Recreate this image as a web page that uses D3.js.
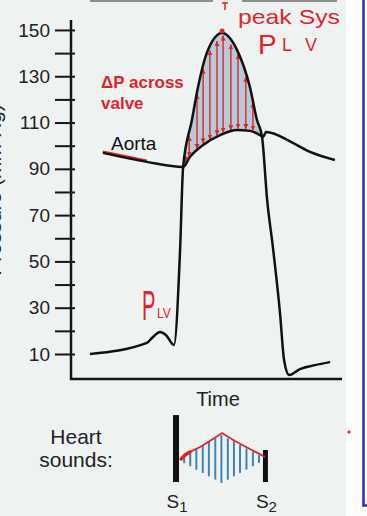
<!DOCTYPE html>
<html><head><meta charset="utf-8">
<script src="https://cdn.jsdelivr.net/npm/d3@7"></script>
<style>html,body{margin:0;padding:0;background:#fff;} svg{display:block;}</style>
</head><body><svg id="c" width="367" height="516"></svg>
<script>
// ---------- data ----------
const yTickValues = [10,20,30,40,50,60,70,80,90,100,110,120,130,140,150];
const yTickLabels = ["10","","30","","50","","70","","90","","110","","130","","150"];
// time in ms, pressure in mm Hg
const lvTime     = [56, 224, 239, 263, 280, 304, 322, 331, 357, 375, 401, 446, 490, 528, 549, 564, 579, 596, 617, 629, 644, 676, 720, 765];
const lvPressure = [10, 14.8, 16.9, 19.5, 18.2, 13.9, 54.9, 90.8, 111.1, 125.4, 140.1, 148.7, 141.4, 125.4, 111.1, 103.8, 76.6, 56.2, 27.7, 7.4, 0.9, 3.5, 5.2, 6.5];
const aortaTime     = [94, 224, 331, 351, 390, 440, 490, 528, 558, 567, 576, 655, 706, 779];
const aortaPressure = [96.9, 93.0, 90.8, 95.1, 100.3, 104.6, 106.8, 106.4, 104.6, 103.8, 105.9, 101.2, 97.3, 93.8];
const aortaRedUntil = 290;
const arrowTimes = [338, 349, 372, 390, 410, 431, 449, 472, 493, 516, 537];
// heart sounds
const murmurTime = [334, 352, 370, 389, 407, 426, 444, 463, 481, 499, 518, 537, 555];
const murmurAmp  = [0.18, 0.3, 0.45, 0.58, 0.72, 0.86, 1.0, 0.86, 0.72, 0.58, 0.44, 0.3, 0.16];
const traceTime = [325, 338, 351, 381, 410, 446, 484, 528, 573];
const traceAmp  = [0.0, 0.18, 0.29, 0.5, 0.75, 1.08, 0.75, 0.42, 0.08];
const soundTimes  = [310, 574];
const soundTop    = [1.83, 0.375];
const soundBottom = [-0.96, -0.96];
const soundSubs   = ["1", "2"];

// ---------- setup ----------
const W = 367, H = 516;
const font = "'Liberation Sans', Arial, Helvetica, sans-serif";
const red = "#e0232b";
const svg = d3.select("#c");

svg.append("rect").attr("width", W).attr("height", H).attr("fill", "#fbfcfc");
svg.append("rect").attr("x", 0).attr("y", 0).attr("width", 346).attr("height", H).attr("fill", "#eef3f2");

const x = d3.scaleLinear().domain([0, 800]).range([71, 342]);
const y = d3.scaleLinear().domain([-0.8, 154.3]).range([379, 20]);
const yM = d3.scaleLinear().domain([-1, 1]).range([483, 435]);

const lvData = lvTime.map((t, i) => ({t, v: lvPressure[i]}));
const aoData = aortaTime.map((t, i) => ({t, v: aortaPressure[i]}));
const lvAt = d3.scaleLinear().domain(lvTime).range(lvPressure);
const aoAt = d3.scaleLinear().domain(aortaTime).range(aortaPressure);

// top bars / frame decorations
svg.append("rect").attr("x", 90).attr("y", 0).attr("width", 123).attr("height", 2).attr("fill", "#8f8f8f");
svg.append("rect").attr("x", 242).attr("y", 0).attr("width", 95).attr("height", 2).attr("fill", "#8f8f8f");
svg.append("path").attr("d", "M363.5,0 V505.5 H367").attr("fill", "none").attr("stroke", "#2a2ac4").attr("stroke-width", 2.5);

// ---------- shading between curves ----------
const defs = svg.append("defs");
defs.append("clipPath").attr("id", "underLV").append("path")
  .attr("d", d3.area().x(d => x(d.t)).y0(y.range()[0]).y1(d => y(d.v)).curve(d3.curveMonotoneX)(lvData));
svg.append("path")
  .attr("d", d3.area().x(d => x(d.t)).y0(y.range()[1]).y1(d => y(d.v)).curve(d3.curveMonotoneX)(aoData))
  .attr("fill", "#b6cbd8").attr("clip-path", "url(#underLV)");

// arrow marker
defs.append("marker").attr("id", "ah").attr("viewBox", "0 0 10 10")
  .attr("refX", 10).attr("refY", 5).attr("markerUnits", "userSpaceOnUse")
  .attr("markerWidth", 5).attr("markerHeight", 6).attr("orient", "auto-start-reverse")
  .append("path").attr("d", "M0,0 L10,5 L0,10 z").attr("fill", red);

svg.append("g").selectAll("line").data(arrowTimes).join("line")
  .attr("x1", d => x(d)).attr("x2", d => x(d))
  .attr("y1", d => y(aoAt(d)) - 1.5).attr("y2", d => y(lvAt(d)) + 1.5)
  .attr("stroke", red).attr("stroke-width", 1.4)
  .attr("marker-start", "url(#ah)").attr("marker-end", "url(#ah)");

// ---------- axes ----------
const axis = d3.axisLeft(y).tickValues(yTickValues).tickSize(16).tickPadding(5)
  .tickFormat((d, i) => yTickLabels[i]);
const gy = svg.append("g").attr("transform", `translate(${x.range()[0]},0)`).call(axis);
gy.select(".domain").remove();
gy.selectAll(".tick line").attr("x1", 4).attr("stroke", "#151515").attr("stroke-width", 2);
gy.selectAll(".tick text").attr("font-family", font).attr("font-size", 19).attr("fill", "#222");

svg.append("path")
  .attr("d", `M${x.range()[0]},${y.range()[1]} V${y.range()[0]} H${x.range()[1]}`)
  .attr("fill", "none").attr("stroke", "#151515").attr("stroke-width", 2.5);

svg.append("text").attr("transform", `translate(1,190) rotate(-90)`).attr("text-anchor", "middle")
  .attr("font-family", font).attr("font-size", 21).attr("fill", "#222").text("Pressure (mm Hg)");

// ---------- curves ----------
const line = d3.line().x(d => x(d.t)).y(d => y(d.v)).curve(d3.curveMonotoneX);
svg.append("path").attr("d", line(aoData.filter(d => d.t <= aortaRedUntil)))
  .attr("transform", "translate(0,-1.3)")
  .attr("fill", "none").attr("stroke", red).attr("stroke-width", 2.4);
svg.append("path").attr("d", line(aoData)).attr("fill", "none").attr("stroke", "#111").attr("stroke-width", 2.5);
svg.append("path").attr("d", line(lvData)).attr("fill", "none").attr("stroke", "#111").attr("stroke-width", 2.5);

// ---------- labels ----------
svg.append("text").attr("x", 111).attr("y", 150).attr("font-family", font).attr("font-size", 19)
  .attr("fill", "#111").text("Aorta");
const dp = svg.append("text").attr("font-family", font).attr("font-size", 17).attr("font-weight", "bold").attr("fill", red);
dp.append("tspan").attr("x", 101).attr("y", 88).text("ΔP across");
dp.append("tspan").attr("x", 101).attr("y", 109).text("valve");

svg.append("text").attr("x", 218).attr("y", 406).attr("font-family", font).attr("font-size", 20)
  .attr("fill", "#222").attr("text-anchor", "middle").text("Time");
const hs = svg.append("text").attr("font-family", font).attr("font-size", 21).attr("fill", "#222").attr("text-anchor", "middle");
hs.append("tspan").attr("x", 76).attr("y", 444).text("Heart");
hs.append("tspan").attr("x", 76).attr("y", 467).text("sounds:");

// handwritten annotations
svg.append("circle").attr("cx", x(446)).attr("cy", y(lvAt(446)) - 2).attr("r", 2.5).attr("fill", red);
svg.append("path").attr("d", "M222,3 H228 M225,3 V10").attr("stroke", red).attr("stroke-width", 1.5).attr("fill", "none");
svg.append("text").attr("x", 238).attr("y", 24).attr("font-family", font).attr("font-size", 21)
  .attr("fill", red).attr("textLength", 102).attr("lengthAdjust", "spacingAndGlyphs").text("peak Sys");
svg.append("text").attr("x", 258).attr("y", 54).attr("font-family", font).attr("font-size", 28)
  .attr("fill", red).text("P");
svg.append("text").attr("x", 282).attr("y", 51).attr("font-family", font).attr("font-size", 18)
  .attr("fill", red).attr("textLength", 35).attr("lengthAdjust", "spacing").text("LV");
svg.append("text").attr("transform", "translate(142,320) scale(0.48,1)").attr("font-family", font)
  .attr("font-size", 42).attr("fill", red).text("P");
svg.append("text").attr("font-family", font).attr("fill", red).attr("x", 157).attr("y", 318)
  .attr("font-size", 14).attr("textLength", 14).attr("lengthAdjust", "spacingAndGlyphs").text("LV");
svg.append("circle").attr("cx", 349).attr("cy", 432).attr("r", 1.6).attr("fill", red);

// ---------- heart sounds ----------
svg.append("g").selectAll("line").data(murmurTime).join("line")
  .attr("x1", d => x(d)).attr("x2", d => x(d))
  .attr("y1", (d, i) => yM(murmurAmp[i])).attr("y2", (d, i) => yM(-murmurAmp[i]))
  .attr("stroke", "#3d83b6").attr("stroke-width", 2);
svg.append("g").selectAll("rect").data(soundTimes).join("rect")
  .attr("x", (d, i) => x(d) - (i === 0 ? 3 : 2.5)).attr("width", (d, i) => i === 0 ? 6 : 5)
  .attr("y", (d, i) => yM(soundTop[i])).attr("height", (d, i) => yM(soundBottom[i]) - yM(soundTop[i]))
  .attr("fill", "#111");
const trace = traceTime.map((t, i) => ({t, a: traceAmp[i]}));
const tl = d3.line().x(d => x(d.t)).y(d => yM(d.a));
svg.append("path").attr("d", tl(trace)).attr("fill", "none").attr("stroke", red).attr("stroke-width", 1.8);
svg.append("path").attr("d", tl(trace.slice(0, 3))).attr("fill", "none").attr("stroke", red).attr("stroke-width", 3.5).attr("stroke-linecap", "round");

const sl = svg.append("g").selectAll("text").data(soundTimes).join("text")
  .attr("x", d => x(d) + 1).attr("y", 508).attr("text-anchor", "middle")
  .attr("font-family", font).attr("font-size", 19).attr("fill", "#222");
sl.append("tspan").text("S");
sl.append("tspan").attr("dy", 4).attr("font-size", 15).text((d, i) => soundSubs[i]);
</script></body></html>
